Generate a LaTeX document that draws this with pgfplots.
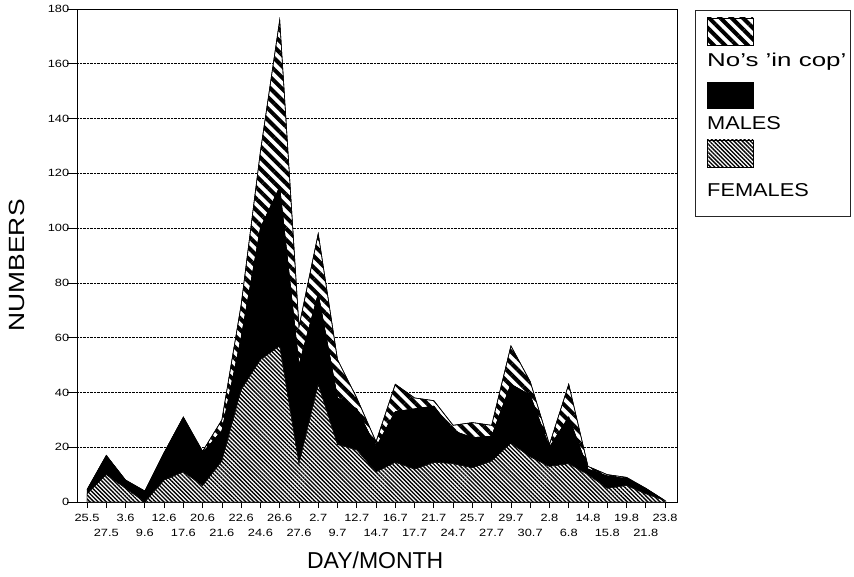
\documentclass[border=0pt]{standalone}
\usepackage{fontspec}
\setmainfont{Liberation Sans}
\newfontfamily\tickfont[FakeStretch=1.22]{Liberation Sans}
\newfontfamily\legfont[FakeStretch=1.17]{Liberation Sans}
\newfontfamily\ylabfont[FakeStretch=1.2]{Liberation Sans}
\usepackage{pgfplots}
\usepackage{pgfplotstable}
\pgfplotsset{compat=1.18}
\usetikzlibrary{patterns.meta}

% F = females, M = males (increment), C = no's in cop (increment)
\pgfplotstableread{
i F M C
0 3 1.5 0
1 10 7 0
2 5 3 0
3 0 4 0
4 8 10 0
5 11 20 0
6 6 12 0.5
7 15 11 4
8 41 19 12
9 52 48 28
10 57 58 61
11 14 36 14
12 43 33 22
13 21 17 14
14 19 15 4
15 11 9 2
16 14.5 18.5 10
17 12 22 4
18 14.5 20.5 2
19 14 12 2
20 12.5 11 5.5
21 15 9 4
22 21.5 21.5 14
23 16.5 22.5 5
24 13 7 1
25 14 17 12
26 10 2 1
27 5 4.5 0.5
28 6 2.5 0.5
29 3 2 0
30 0.5 0 0
}\datatable

\tikzset{
  femhatch/.style={fill=white, postaction={pattern={Lines[angle=-45,distance=2.9pt,line width=1.35pt]}}},
  cophatch/.style={fill=white, postaction={pattern={Lines[angle=-45,distance=8pt,line width=4pt]}}},
}

\begin{document}
\begin{tikzpicture}
\path[use as bounding box] (-77pt,-74pt) rectangle (777pt,502pt);
\begin{axis}[
  at={(0,0)}, anchor=south west,
  scale only axis, width=600pt, height=493pt,
  xmin=-0.52, xmax=30.62, ymin=0, ymax=180,
  stack plots=y,
  ytick={0,20,...,180},
  ymajorgrids, grid style={densely dotted, black, line width=0.6pt},
  tick pos=left, tick align=outside,
  axis line style={black, line width=0.7pt},
  ytick style={/pgfplots/major tick length=10pt, black, line width=0.7pt},
  xtick style={/pgfplots/major tick length=6pt, black, line width=0.7pt},
  xtick={0,2,...,30},
  xticklabels={25.5,3.6,12.6,20.6,22.6,26.6,2.7,12.7,16.7,21.7,25.7,29.7,2.8,14.8,19.8,23.8},
  extra x ticks={1,3,...,29},
  extra x tick labels={27.5,9.6,17.6,21.6,24.6,27.6,9.7,14.7,17.7,24.7,27.7,30.7,6.8,15.8,21.8},
  extra x tick style={xmajorgrids=false, xticklabel style={yshift=-15pt}},
  /pgf/number format/assume math mode=true,
  ticklabel style={font=\tickfont\fontsize{10.5}{12}\selectfont},
  xticklabel style={yshift=-4pt},
  xlabel={DAY/MONTH},
  xlabel style={at={(axis description cs:0.497,-0.134)}, anchor=base, font=\fontsize{23}{26}\selectfont},
  ylabel={NUMBERS},
  ylabel style={at={(axis description cs:-0.0867,0.48)}, anchor=base, font=\ylabfont\fontsize{22}{24}\selectfont},
]
\addplot[draw=black, line width=0.4pt, femhatch] table[x=i,y=F]{\datatable} \closedcycle;
\addplot[draw=black, line width=0.4pt, fill=black] table[x=i,y=M]{\datatable} \closedcycle;
\addplot[draw=black, line width=0.6pt, cophatch] table[x=i,y=C]{\datatable} \closedcycle;
\end{axis}
% legend
\draw[line width=0.7pt, black!85] (618pt,286pt) rectangle (773pt,492pt);
\draw[line width=0.5pt, cophatch] (630pt,457pt) rectangle (676pt,484pt);
\node[anchor=base west, inner sep=0pt, xscale=1.19, font=\legfont\fontsize{18.6}{20}\selectfont] at (630pt,435pt) {No’s ’in cop’};
\draw[line width=0.5pt, fill=black] (630pt,394pt) rectangle (676pt,420pt);
\node[anchor=base west, inner sep=0pt, font=\legfont\fontsize{18.6}{20}\selectfont] at (630pt,372pt) {MALES};
\draw[line width=0.5pt, femhatch] (630pt,335pt) rectangle (676pt,362pt);
\node[anchor=base west, inner sep=0pt, font=\legfont\fontsize{18.6}{20}\selectfont] at (630pt,305pt) {FEMALES};
\end{tikzpicture}
\end{document}
